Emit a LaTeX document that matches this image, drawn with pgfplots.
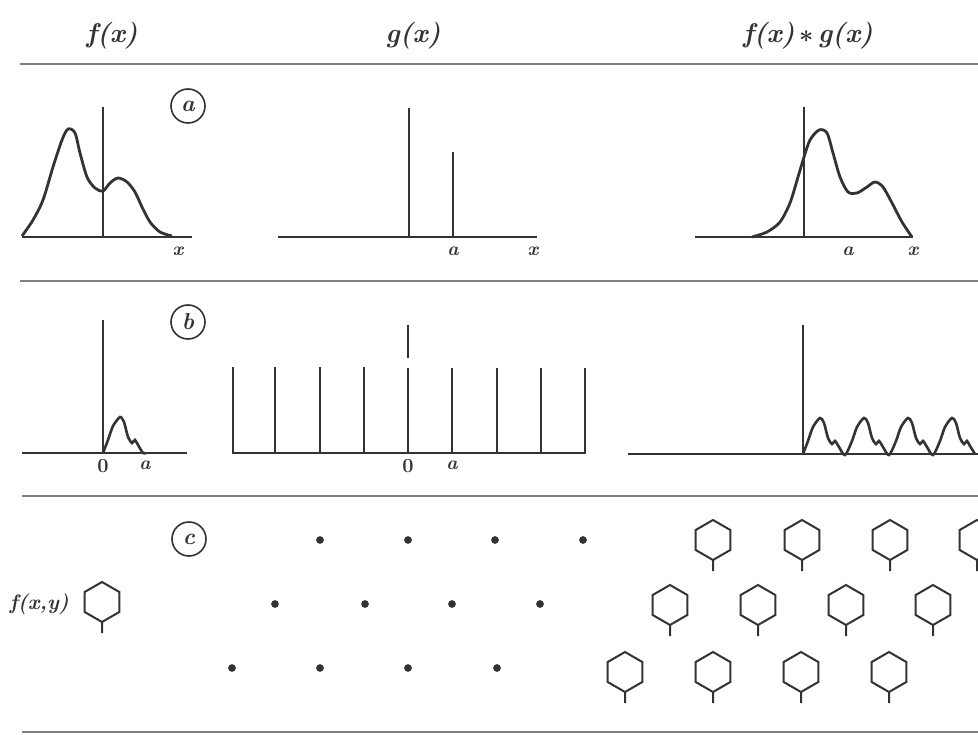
\documentclass[border=0pt]{standalone}
\usepackage{amsmath}
\usepackage{fontspec}
\usepackage{pgfplots}
\pgfplotsset{compat=1.18}
\definecolor{ink}{gray}{0.2}
\definecolor{rule}{gray}{0.5}
\pgfdeclareplotmark{hexstem}{%
  \pgfpathmoveto{\pgfqpointpolar{90}{\pgfplotmarksize}}%
  \pgfpathlineto{\pgfqpointpolar{150}{\pgfplotmarksize}}%
  \pgfpathlineto{\pgfqpointpolar{210}{\pgfplotmarksize}}%
  \pgfpathlineto{\pgfqpointpolar{270}{\pgfplotmarksize}}%
  \pgfpathlineto{\pgfqpointpolar{330}{\pgfplotmarksize}}%
  \pgfpathlineto{\pgfqpointpolar{30}{\pgfplotmarksize}}%
  \pgfpathclose
  \pgfpathmoveto{\pgfqpoint{0pt}{-\pgfplotmarksize}}%
  \pgfpathlineto{\pgfpoint{0pt}{-\pgfplotmarksize-11pt}}%
  \pgfusepathqstroke
}
\newcommand{\tit}{\fontsize{27}{30}\selectfont\bfseries\itshape}
\newcommand{\lab}{\fontsize{19}{22}\selectfont\bfseries\itshape}
\newcommand{\cir}{\fontsize{23}{26}\selectfont\bfseries\itshape}
\begin{document}
\begin{tikzpicture}
\begin{axis}[
  scale only axis, width=978pt, height=735pt,
  xmin=0, xmax=978, ymin=0, ymax=735, y dir=reverse,
  hide axis, clip=true, unbounded coords=jump,
]
% separators
\addplot[rule, line width=1.8pt] coordinates {(20,64) (978,64) (nan,nan) (20,281) (978,281) (nan,nan) (22,496) (978,496) (nan,nan) (22,732) (978,732)};
% titles
\node[ink] at (axis cs:112,36) {\tit f(x)};
\node[ink] at (axis cs:413,36) {\tit g(x)};
\node[ink] at (axis cs:808,36) {\tit f(x)\,$\boldsymbol{\ast}$\,g(x)};
% ---------- row a ----------
\addplot[ink, line width=1.2pt] coordinates {(22,237) (192,237) (nan,nan) (103,107) (103,237)};
\addplot[ink, line width=2.8pt, smooth, tension=0.5] coordinates {
 (22,236) (33,220) (43,200) (53,167) (62,140) (68,129) (75,133) (80,153) (87,177) (95,188) (103,191) (110,183) (118,178) (127,182) (135,192) (142,207) (150,222) (160,232) (172,236)};
\node[ink] at (axis cs:178,251) {\lab x};
\node[ink, draw, circle, line width=1.6pt, minimum size=34pt, inner sep=0pt] at (axis cs:188,106) {\cir a};
% g
\addplot[ink, line width=1.2pt] coordinates {(278,237) (537,237) (nan,nan) (409,108) (409,237)};
\addplot[ink, line width=2.8pt] coordinates {(453,152) (453,237)};
\node[ink] at (axis cs:453,251) {\lab a};
\node[ink] at (axis cs:533,251) {\lab x};
% f*g
\addplot[ink, line width=1.2pt] coordinates {(695,237) (913,237) (nan,nan) (804,107) (804,237)};
\addplot[ink, line width=2.8pt, smooth, tension=0.5] coordinates {
 (752,237) (767,232) (780,222) (790,203) (798,177) (804,157) (810,140) (819,130) (827,133) (833,153) (840,177) (848,192) (857,193) (867,187) (875,182) (883,187) (892,203) (902,222) (912,237)};
\node[ink] at (axis cs:848,251) {\lab a};
\node[ink] at (axis cs:913,251) {\lab x};
% ---------- row b ----------
\addplot[ink, line width=1.2pt] coordinates {(22,453) (187,453) (nan,nan) (103,320) (103,453)};
\addplot[ink, line width=2.6pt, smooth, tension=0.4] coordinates {
 (103,453) (108,440) (113,426) (120,417) (124,422) (128,437) (132,443) (135,440) (138,445) (143,453) (146,453)};
\node[ink] at (axis cs:103,466) {\fontsize{20}{22}\selectfont\bfseries 0};
\node[ink] at (axis cs:145,465) {\lab a};
\node[ink, draw, circle, line width=1.6pt, minimum size=34pt, inner sep=0pt] at (axis cs:188,322) {\cir b};
% lattice
\addplot[ink, line width=1.2pt] coordinates {(232,453) (586,453) (nan,nan) (408,325) (408,358)};
\addplot[ink, line width=2.8pt] coordinates {
 (233,453) (233,367) (nan,nan) (275,453) (275,367) (nan,nan) (320,453) (320,367) (nan,nan)
 (364,453) (364,367) (nan,nan) (408,453) (408,368) (nan,nan) (452,453) (452,368) (nan,nan)
 (497,453) (497,368) (nan,nan) (541,453) (541,368) (nan,nan) (585,453) (585,368)};
\node[ink] at (axis cs:408,466) {\fontsize{20}{22}\selectfont\bfseries 0};
\node[ink] at (axis cs:452,465) {\lab a};
% convolution
\addplot[ink, line width=1.2pt] coordinates {(628,454) (978,454) (nan,nan) (803,325) (803,454)};
\addplot[ink, line width=2.6pt, smooth, tension=0.5] coordinates {
 (803,454) (808,441) (813,427) (820,418) (824,423) (828,438) (832,444) (835,441) (839,447) (845,455)
 (852,441) (857,427) (864,418) (868,423) (872,438) (876,444) (879,441) (883,447) (889,455)
 (896,441) (901,427) (908,418) (912,423) (916,438) (920,444) (923,441) (927,447) (933,455)
 (940,441) (945,427) (952,418) (956,423) (960,438) (964,444) (967,441) (970,446) (975,454)};
% ---------- row c ----------
\node[ink, draw, circle, line width=1.6pt, minimum size=34pt, inner sep=0pt] at (axis cs:189,539) {\cir c};
\node[ink, anchor=west] at (axis cs:6,604) {\fontsize{21}{24}\selectfont\bfseries\itshape f(x,y)};
\addplot[ink, only marks, mark=*, mark size=3.6pt] coordinates {
 (320,540) (408,540) (495,540) (583,540)
 (275,604) (365,604) (452,604) (540,604)
 (232,668) (320,668) (408,668) (497,668)};
\addplot[ink, only marks, mark=hexstem, mark size=20pt, mark options={line width=2pt, fill=none}] coordinates {
 (102,602)
 (713,540) (802,540) (890,540) (977,540)
 (670,605) (758,605) (846,605) (933,605)
 (625,672) (713,672) (801,672) (889,672)};
\end{axis}
\pgfresetboundingbox
\path[use as bounding box] (0,0) rectangle (978pt,735pt);
\end{tikzpicture}
\end{document}
